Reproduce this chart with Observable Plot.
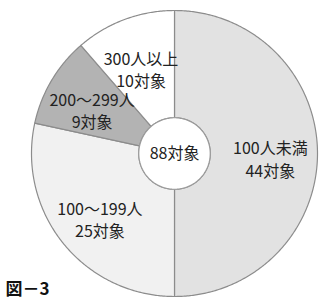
<!DOCTYPE html>
<html>
<head>
<meta charset="utf-8">
<script src="https://cdn.jsdelivr.net/npm/d3@7"></script>
<script src="https://cdn.jsdelivr.net/npm/@observablehq/plot@0.6"></script>
<style>
  html, body { margin: 0; padding: 0; background: #fff; }
</style>
</head>
<body>
<div id="chart"></div>
<script>
// ---- data ----
const categories = ["100人未満", "100〜199人", "200〜299人", "300人以上"];
const counts = [44, 25, 9, 10];
const unit = "対象";
const caption = "図－3";

// ---- derived geometry (from data) ----
const arcs = d3.pie().sort(null).value(d => d)(counts);
const R_IN = 0.25, R_OUT = 1, R_LABEL = 0.67;

const polyPts = [];
arcs.forEach((a, i) => {
  const n = Math.max(8, Math.ceil((a.endAngle - a.startAngle) / 0.01));
  for (let k = 0; k <= n; k++) {
    const t = a.startAngle + (a.endAngle - a.startAngle) * k / n;
    polyPts.push({cat: categories[i], x: R_OUT * Math.sin(t), y: R_OUT * Math.cos(t)});
  }
  for (let k = n; k >= 0; k--) {
    const t = a.startAngle + (a.endAngle - a.startAngle) * k / n;
    polyPts.push({cat: categories[i], x: R_IN * Math.sin(t), y: R_IN * Math.cos(t)});
  }
});

const labels = arcs.map((a, i) => {
  const m = (a.startAngle + a.endAngle) / 2;
  return {x: R_LABEL * Math.sin(m), y: R_LABEL * Math.cos(m), text: categories[i] + "\n" + counts[i] + unit};
});

const total = d3.sum(counts);
const hole = d3.range(0, 361, 2).map(d => ({x: R_IN * Math.sin(d * Math.PI / 180), y: R_IN * Math.cos(d * Math.PI / 180)}));

const chart = Plot.plot({
  width: 320,
  height: 298,
  marginLeft: 31,
  marginRight: 3,
  marginTop: 10,
  marginBottom: 2,
  x: {domain: [-1, 1], axis: null},
  y: {domain: [-1, 1], axis: null},
  color: {domain: categories, range: ["#e2e2e2", "#f1f1f1", "#b3b3b3", "#ffffff"]},
  style: {fontFamily: "'Noto Sans CJK JP', sans-serif", background: "#fff"},
  marks: [
    Plot.line(polyPts, {x: "x", y: "y", z: "cat", fill: "cat", stroke: "#8c8c8c", strokeWidth: 1.2, curve: "linear-closed"}),
    Plot.line(hole, {x: "x", y: "y", fill: "#fff", stroke: "#9a9a9a", strokeWidth: 1.2, curve: "linear-closed"}),
    Plot.text(labels, {x: "x", y: "y", text: "text", dy: 5, fontSize: 16, lineHeight: 1.4, fill: "#222"}),
    Plot.text([total + unit], {x: () => 0, y: () => 0, fontSize: 16, fill: "#222"}),
    Plot.text([caption], {frameAnchor: "bottom-left", textAnchor: "start", lineAnchor: "bottom", dx: -26, dy: -2, fontSize: 17, fontWeight: "bold", fill: "#111"})
  ]
});
document.getElementById("chart").appendChild(chart);
</script>
</body>
</html>
